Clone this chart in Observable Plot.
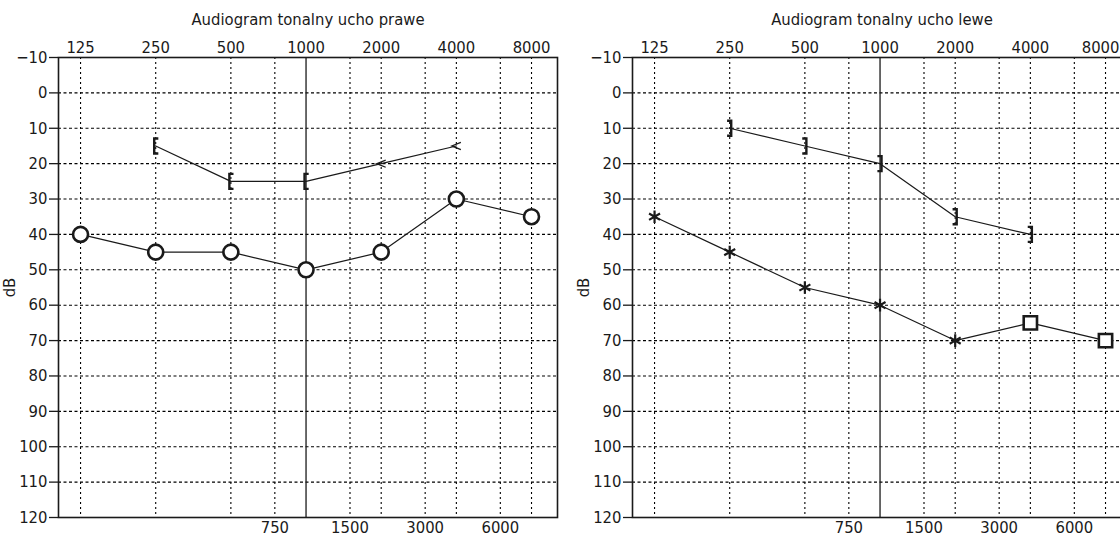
<!DOCTYPE html>
<html><head><meta charset="utf-8">
<script src="https://cdn.jsdelivr.net/npm/d3@7"></script>
<script src="https://cdn.jsdelivr.net/npm/@observablehq/plot@0.6"></script>
<style>
html,body{margin:0;padding:0;background:#fff;overflow:hidden}
#wrap{position:relative;width:1120px;height:538px;overflow:hidden;background:#fff}
#wrap > svg{position:absolute;top:0}
</style></head><body><div id="wrap"></div>
<script>
// Tick labels
const freqTicks = [125, 250, 500, 1000, 2000, 4000, 8000];
const midTicks = [750, 1500, 3000, 6000];
const gridFreqs = [125, 250, 500, 750, 1500, 2000, 3000, 4000, 6000, 8000];
const dbTicks = [-10, 0, 10, 20, 30, 40, 50, 60, 70, 80, 90, 100, 110, 120];
const dbGrid = [0, 10, 20, 30, 40, 50, 60, 70, 80, 90, 100, 110];

// Right ear (ucho prawe)
const rightTitle = "Audiogram tonalny ucho prawe";
const rightBoneFreq = [250, 500, 1000, 2000, 4000];
const rightBoneDb = [15, 25, 25, 20, 15];
const rightBoneSym = ["[", "[", "[", "<", "<"];
const rightAirFreq = [125, 250, 500, 1000, 2000, 4000, 8000];
const rightAirDb = [40, 45, 45, 50, 45, 30, 35];
const rightAirSym = ["o", "o", "o", "o", "o", "o", "o"];

// Left ear (ucho lewe)
const leftTitle = "Audiogram tonalny ucho lewe";
const leftBoneFreq = [250, 500, 1000, 2000, 4000];
const leftBoneDb = [10, 15, 20, 35, 40];
const leftBoneSym = ["]", "]", "]", "]", "]"];
const leftAirFreq = [125, 250, 500, 1000, 2000, 4000, 8000];
const leftAirDb = [35, 45, 55, 60, 70, 65, 70];
const leftAirSym = ["*", "*", "*", "*", "*", "s", "s"];

const FONT = '"DejaVu Sans Condensed","Liberation Sans Narrow",sans-serif';
const INK = "#1a1a1a";

const rOf = size => Math.sqrt(size / Math.PI);
const bracketOpen = {draw(c, size) { const r = rOf(size);
  c.moveTo(r * 0.35, -r); c.lineTo(-r * 0.2, -r); c.lineTo(-r * 0.2, r); c.lineTo(r * 0.35, r); }};
const bracketClose = {draw(c, size) { const r = rOf(size);
  c.moveTo(-r * 0.35, -r); c.lineTo(r * 0.2, -r); c.lineTo(r * 0.2, r); c.lineTo(-r * 0.35, r); }};
const chevron = {draw(c, size) { const r = rOf(size);
  c.moveTo(r, -r * 0.8); c.lineTo(-r, 0); c.lineTo(r, r * 0.8); }};

const zip = (f, db, s) => f.map((v, i) => ({f: v, db: db[i], sym: s[i]}));

function panel(title, bone, air, clipRight) {
  const last = freqTicks[freqTicks.length - 1];
  return Plot.plot({
    width: 574, height: 538,
    marginLeft: 58, marginRight: 17, marginTop: 57, marginBottom: 21,
    style: {fontFamily: FONT, fontSize: "16.5px", color: INK, background: "transparent", fontStretch: "condensed"},
    x: {type: "log", domain: [102, 10166], axis: null},
    y: {domain: [-10, 120], reverse: true, axis: null},
    marks: [
      Plot.ruleY(dbGrid, {stroke: "#000", strokeWidth: 1.1, strokeDasharray: "3,2.5"}),
      Plot.ruleX(gridFreqs, {stroke: "#000", strokeWidth: 1.1, strokeDasharray: "2,3"}),
      Plot.ruleX([1000], {stroke: INK, strokeWidth: 1.3}),
      Plot.frame({stroke: INK, strokeWidth: 1.6}),
      Plot.text(freqTicks, {filter: d => !(clipRight && d === last), x: d => d, frameAnchor: "top", dy: -10, lineAnchor: "middle", text: d => String(d), fill: INK}),
      Plot.text(clipRight ? [last] : [], {x: d => d, frameAnchor: "top", dy: -10, dx: 14, textAnchor: "end", lineAnchor: "middle", text: d => String(d), fill: INK}),
      Plot.text(midTicks, {x: d => d, frameAnchor: "bottom", dy: 10, lineAnchor: "middle", text: d => String(d), fill: INK}),
      Plot.axisY({ticks: dbTicks, tickSize: 9, tickPadding: 2, strokeWidth: 1.3,
        tickFormat: d => d < 0 ? "\u2212" + (-d) : String(d),
        label: "dB", labelAnchor: "center", labelArrow: "none"}),
      Plot.text([title], {frameAnchor: "top", dy: -38, lineAnchor: "middle", fill: INK}),
      Plot.line(bone, {x: "f", y: "db", stroke: INK, strokeWidth: 1.2}),
      Plot.line(air, {x: "f", y: "db", stroke: INK, strokeWidth: 1.2}),
      Plot.dot(bone, {filter: d => d.sym === "[", x: "f", y: "db", symbol: bracketOpen, r: 7.5, stroke: INK, strokeWidth: 2.4, fill: "none"}),
      Plot.dot(bone, {filter: d => d.sym === "]", x: "f", y: "db", symbol: bracketClose, r: 7.5, stroke: INK, strokeWidth: 2.4, fill: "none"}),
      Plot.dot(bone, {filter: d => d.sym === "<", x: "f", y: "db", symbol: chevron, r: 4.5, stroke: INK, strokeWidth: 1.3, fill: "none"}),
      Plot.dot(air, {filter: d => d.sym === "o", x: "f", y: "db", symbol: "circle", r: 7.5, stroke: INK, strokeWidth: 2.6, fill: "white"}),
      Plot.dot(air, {filter: d => d.sym === "s", x: "f", y: "db", symbol: "square", r: 7.5, stroke: INK, strokeWidth: 2.6, fill: "white"}),
      Plot.dot(air, {filter: d => d.sym === "*", x: "f", y: "db", symbol: "asterisk", r: 6, stroke: INK, strokeWidth: 2.2})
    ]
  });
}

const wrap = document.getElementById("wrap");
const p1 = panel(rightTitle, zip(rightBoneFreq, rightBoneDb, rightBoneSym), zip(rightAirFreq, rightAirDb, rightAirSym), false);
p1.style.left = "0px";
const p2 = panel(leftTitle, zip(leftBoneFreq, leftBoneDb, leftBoneSym), zip(leftAirFreq, leftAirDb, leftAirSym), true);
p2.style.left = "574px";
wrap.append(p1, p2);
</script>
</body></html>
